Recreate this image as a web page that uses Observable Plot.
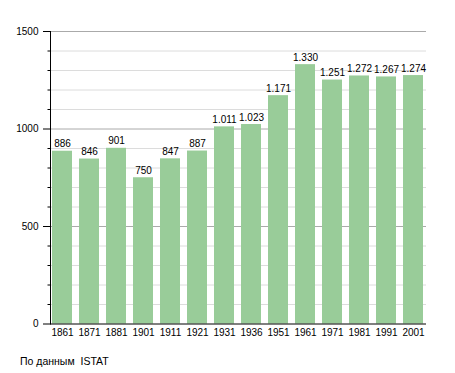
<!DOCTYPE html>
<html>
<head>
<meta charset="utf-8">
<script src="https://cdn.jsdelivr.net/npm/d3@7"></script>
<script src="https://cdn.jsdelivr.net/npm/@observablehq/plot@0.6"></script>
<style>
  html, body { margin: 0; padding: 0; background: #fff; }
  #wrap { position: relative; width: 455px; height: 373px; font-family: "Liberation Sans", Arial, sans-serif; }
  #caption { position: absolute; left: 20px; top: 355px; font-size: 10.5px; color: #000; white-space: pre; }
</style>
</head>
<body>
<div id="wrap">
  <div id="chart"></div>
  <div id="caption">По данным  ISTAT</div>
</div>
<script>
const years = ["1861","1871","1881","1901","1911","1921","1931","1936","1951","1961","1971","1981","1991","2001"];
const population = [886, 846, 901, 750, 847, 887, 1011, 1023, 1171, 1330, 1251, 1272, 1267, 1274];
const majorTicks = [0, 500, 1000, 1500];
const minorTicks = [100,200,300,400,600,700,800,900,1100,1200,1300,1400];

const data = years.map((y, i) => ({year: y, value: population[i]}));
const fmt = d3.formatLocale({decimal: ",", thousands: ".", grouping: [3], currency: ["", ""]}).format(",");

const chart = Plot.plot({
  width: 455,
  height: 345,
  marginTop: 31,
  marginBottom: 21.5,
  marginLeft: 50,
  marginRight: 29,
  style: {fontFamily: "Liberation Sans, Arial, sans-serif", fontSize: "10px", color: "#000", background: "#fff"},
  x: {domain: years, paddingInner: 0.25, paddingOuter: 0.03, label: null, tickSize: 0, tickPadding: 5},
  y: {domain: [0, 1500], label: null},
  marks: [
    Plot.ruleY(minorTicks, {stroke: "#dcdcdc", strokeWidth: 1}),
    Plot.ruleY(majorTicks.filter(d => d > 0), {stroke: "#aaaaaa", strokeWidth: 1}),
    Plot.barY(data, {x: "year", y: "value", fill: "#99cc99"}),
    Plot.text(data, {x: "year", y: "value", text: d => fmt(d.value), lineAnchor: "bottom", dy: -4, fontSize: 10, fill: "#000"}),
    Plot.axisY(minorTicks, {tickSize: 2.5, tickFormat: () => ""}),
    Plot.axisY(majorTicks, {tickSize: 7, tickPadding: 5, fontSize: 10, tickFormat: d3.format("d")}),
    Plot.axisX({tickSize: 0, tickPadding: 5, fontSize: 10}),
    Plot.frame({anchor: "left", stroke: "#000"}),
    Plot.ruleY([0], {stroke: "#000"})
  ]
});
document.getElementById("chart").appendChild(chart);
</script>
</body>
</html>
